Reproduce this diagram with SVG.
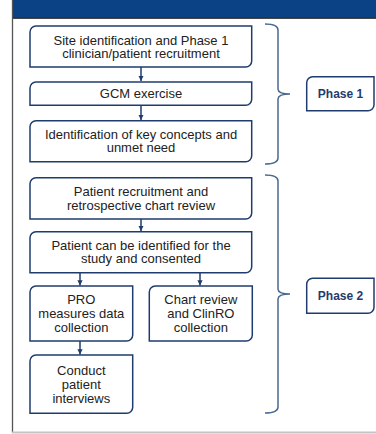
<svg xmlns="http://www.w3.org/2000/svg" width="376" height="434" viewBox="0 0 376 434">
<defs>
<style>
.box{fill:#fff;stroke:#1F3C6E;stroke-width:1.5}
.t{font-family:"Liberation Sans",Arial,sans-serif;font-size:13px;fill:#222;text-anchor:middle}
.ph{font-family:"Liberation Sans",Arial,sans-serif;font-size:12px;font-weight:bold;fill:#1F3C6E;text-anchor:middle}
.con{stroke:#1F3C6E;stroke-width:1.5;fill:none}
.brace{stroke:#4A6890;stroke-width:1.5;fill:none}
</style>
<marker id="ah" viewBox="0 0 10 10" refX="10" refY="5" markerWidth="3.5" markerHeight="3.5" orient="auto" markerUnits="strokeWidth">
<path d="M0,0 L10,5 L0,10 Z" fill="#1F3C6E"/>
</marker>
</defs>
<rect x="0" y="0" width="376" height="434" fill="#fff"/>
<rect x="12" y="0" width="364" height="18" fill="#0B4285"/>
<line x1="12" y1="18.3" x2="376" y2="18.3" stroke="#1a1a1a" stroke-width="1"/>
<line x1="12.5" y1="0" x2="12.5" y2="433" stroke="#555" stroke-width="1.3"/>
<line x1="12" y1="432.5" x2="376" y2="432.5" stroke="#c4c4c4" stroke-width="2"/>

<g id="connectors">
<line class="con" x1="141" y1="67" x2="141" y2="81" marker-end="url(#ah)"/>
<line class="con" x1="141" y1="105.5" x2="141" y2="120" marker-end="url(#ah)"/>
<line class="con" x1="141" y1="219" x2="141" y2="231" marker-end="url(#ah)"/>
<line class="con" x1="80" y1="273" x2="80" y2="285.5" marker-end="url(#ah)"/>
<line class="con" x1="200" y1="273" x2="200" y2="285.5" marker-end="url(#ah)"/>
<line class="con" x1="80" y1="341" x2="80" y2="354.5" marker-end="url(#ah)"/>
</g>

<g id="brace1"><path class="brace" d="M265,24 Q278,24 278,30 V89 Q278,94 290,94 Q278,94 278,99 V158 Q278,164 265,164"/></g>
<g id="brace2"><path class="brace" d="M265,175 Q278,175 278,181 V289 Q278,294 290,294 Q278,294 278,299 V407 Q278,413 265,413"/></g>

<g id="n1"><path class="box" d="M36,26 H251.7 V61 A6,6 0 0 1 245.7,67 H30 V32 A6,6 0 0 1 36,26 Z"/>
<text class="t" x="141" y="44.5">Site identification and Phase 1</text>
<text class="t" x="141" y="58">clinician/patient recruitment</text></g>

<g id="n2"><path class="box" d="M36,82 H251.7 V99.3 A6,6 0 0 1 245.7,105.3 H30 V88 A6,6 0 0 1 36,82 Z"/>
<text class="t" x="141" y="98">GCM exercise</text></g>

<g id="n3"><path class="box" d="M36,120.7 H251.7 V155.7 A6,6 0 0 1 245.7,161.7 H30 V126.7 A6,6 0 0 1 36,120.7 Z"/>
<text class="t" x="141" y="138.5">Identification of key concepts and</text>
<text class="t" x="141" y="152.2">unmet need</text></g>

<g id="n4"><path class="box" d="M36,177.7 H251.7 V213 A6,6 0 0 1 245.7,219 H30 V183.7 A6,6 0 0 1 36,177.7 Z"/>
<text class="t" x="141" y="195.5">Patient recruitment and</text>
<text class="t" x="141" y="209.5">retrospective chart review</text></g>

<g id="n5"><path class="box" d="M36,231.7 H251.7 V266.7 A6,6 0 0 1 245.7,272.7 H30 V237.7 A6,6 0 0 1 36,231.7 Z"/>
<text class="t" x="141" y="249.5">Patient can be identified for the</text>
<text class="t" x="141" y="263.2">study and consented</text></g>

<g id="n6"><path class="box" d="M36,286 H132.7 V335 A6,6 0 0 1 126.7,341 H30 V292 A6,6 0 0 1 36,286 Z"/>
<text class="t" x="81.3" y="304">PRO</text>
<text class="t" x="81.3" y="318">measures data</text>
<text class="t" x="81.3" y="332">collection</text></g>

<g id="n7"><path class="box" d="M155.3,286 H252.3 V335 A6,6 0 0 1 246.3,341 H149.3 V292 A6,6 0 0 1 155.3,286 Z"/>
<text class="t" x="200.8" y="304">Chart review</text>
<text class="t" x="200.8" y="318">and ClinRO</text>
<text class="t" x="200.8" y="332">collection</text></g>

<g id="n8"><path class="box" d="M36,355 H132.7 V407.3 A6,6 0 0 1 126.7,413.3 H30 V361 A6,6 0 0 1 36,355 Z"/>
<text class="t" x="81.3" y="374.5">Conduct</text>
<text class="t" x="81.3" y="388.5">patient</text>
<text class="t" x="81.3" y="402.5">interviews</text></g>

<g id="phase1"><path class="box" d="M312.7,76.7 H374 V104.7 A6,6 0 0 1 368,110.7 H306.7 V82.7 A6,6 0 0 1 312.7,76.7 Z"/>
<text class="ph" x="340.5" y="98">Phase 1</text></g>

<g id="phase2"><path class="box" d="M312.7,278.3 H374 V307.3 A6,6 0 0 1 368,313.3 H306.7 V284.3 A6,6 0 0 1 312.7,278.3 Z"/>
<text class="ph" x="340.5" y="300">Phase 2</text></g>
</svg>
